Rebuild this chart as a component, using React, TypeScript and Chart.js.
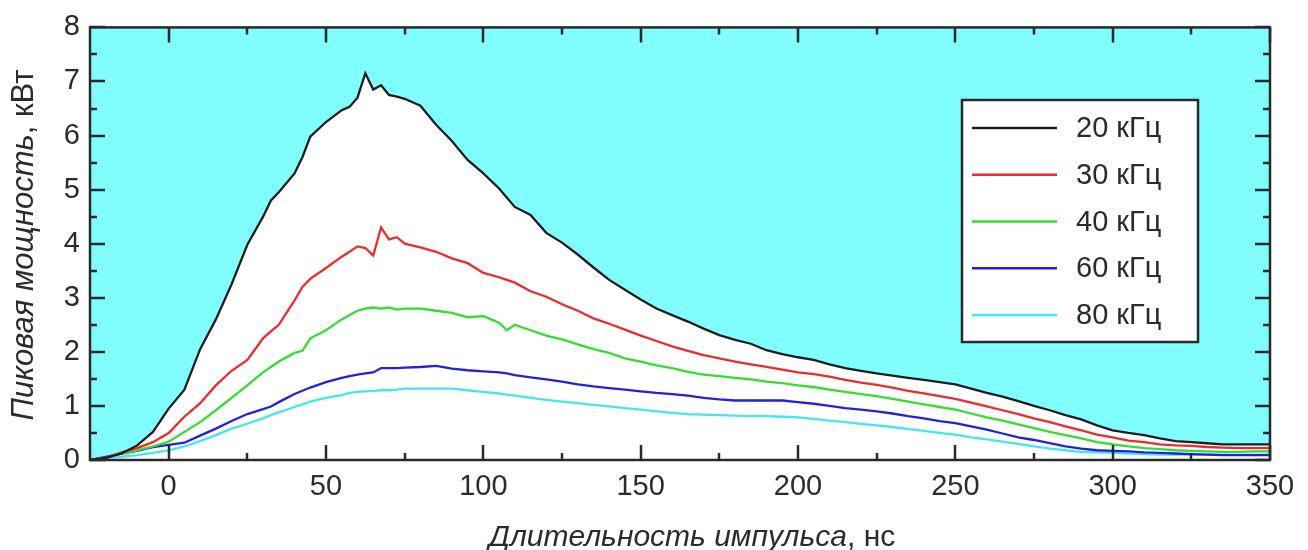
import React, { useEffect, useRef } from "react";
import { Chart, registerables } from "chart.js";

Chart.register(...registerables);

// Pulse duration, ns
const TIME = [
  -25, -20, -15, -10, -5, 0, 5, 10, 15, 20,
  25, 30, 32.5, 35, 40, 42.5, 45, 50, 55, 57.5,
  60, 62.5, 65, 67.5, 70, 72.5, 75, 80, 85, 90,
  95, 100, 105, 107.5, 110, 115, 120, 125, 130, 135,
  140, 145, 150, 155, 160, 165, 170, 175, 180, 185,
  190, 195, 200, 205, 210, 215, 220, 225, 230, 235,
  240, 245, 250, 255, 260, 265, 270, 275, 280, 285,
  290, 295, 300, 305, 310, 315, 320, 325, 330, 335,
  340, 345, 350,
];

// Peak power, kW
const P20 = [
  0, 0.04, 0.12, 0.27, 0.52, 0.95, 1.3, 2.05, 2.6, 3.25,
  3.98, 4.5, 4.8, 4.95, 5.3, 5.6, 5.98, 6.25, 6.47, 6.53,
  6.7, 7.15, 6.85, 6.93, 6.75, 6.72, 6.68, 6.55, 6.2, 5.9,
  5.55, 5.3, 5.02, 4.85, 4.68, 4.53, 4.2, 4.02, 3.8, 3.56,
  3.33, 3.15, 2.97, 2.8, 2.68, 2.56, 2.43, 2.31, 2.22, 2.15,
  2.03, 1.96, 1.9, 1.85, 1.77, 1.7, 1.65, 1.6, 1.56, 1.52,
  1.48, 1.44, 1.4, 1.32, 1.24, 1.17, 1.09, 1.0, 0.92, 0.83,
  0.75, 0.64, 0.55, 0.5, 0.46, 0.4, 0.35, 0.33, 0.31, 0.29,
  0.29, 0.29, 0.29,
];
const P30 = [
  0, 0.04, 0.14, 0.22, 0.33, 0.5, 0.8, 1.05, 1.38, 1.65,
  1.85, 2.25, 2.38, 2.5, 2.95, 3.2, 3.35, 3.55, 3.76, 3.85,
  3.95, 3.92, 3.78, 4.3, 4.08, 4.12, 4.0, 3.93, 3.85, 3.73,
  3.64, 3.46, 3.38, 3.33, 3.28, 3.12, 3.02, 2.88, 2.76, 2.62,
  2.52, 2.41, 2.3, 2.2, 2.1, 2.02, 1.94, 1.88, 1.82, 1.77,
  1.72, 1.67, 1.62, 1.59, 1.54, 1.48, 1.43, 1.39, 1.34, 1.28,
  1.23, 1.18, 1.13, 1.06, 0.99, 0.92, 0.85, 0.77, 0.7, 0.62,
  0.55, 0.47, 0.42, 0.36, 0.33, 0.29, 0.27, 0.26, 0.24, 0.23,
  0.22, 0.22, 0.22,
];
const P40 = [
  0, 0.04, 0.12, 0.18, 0.25, 0.34, 0.52, 0.7, 0.92, 1.15,
  1.38, 1.62, 1.72, 1.82, 1.98, 2.02, 2.25, 2.4, 2.6, 2.68,
  2.76, 2.8, 2.82, 2.8, 2.82, 2.78, 2.8, 2.8, 2.76, 2.72,
  2.64, 2.66, 2.54, 2.4, 2.5, 2.4, 2.3, 2.23, 2.14, 2.05,
  1.98, 1.88, 1.82, 1.75, 1.7, 1.63, 1.58, 1.55, 1.52, 1.49,
  1.45, 1.42, 1.38, 1.35, 1.3, 1.26, 1.22, 1.18, 1.13, 1.08,
  1.03, 0.98, 0.93, 0.86, 0.79, 0.73, 0.66, 0.59, 0.52, 0.46,
  0.4, 0.33, 0.29, 0.25, 0.22, 0.2, 0.18, 0.17, 0.16, 0.15,
  0.15, 0.16, 0.16,
];
const P60 = [
  0, 0.06, 0.12, 0.17, 0.24, 0.28, 0.32, 0.45, 0.58, 0.72,
  0.85, 0.94, 0.99, 1.07, 1.22, 1.28, 1.34, 1.44, 1.52, 1.55,
  1.58, 1.6, 1.62, 1.7, 1.7, 1.7, 1.71, 1.72, 1.74, 1.69,
  1.66, 1.64, 1.62, 1.6, 1.57, 1.53, 1.49, 1.45, 1.4, 1.36,
  1.33, 1.3, 1.27, 1.24, 1.22, 1.19, 1.15, 1.12, 1.1, 1.1,
  1.1, 1.1, 1.07, 1.04, 1.0, 0.96, 0.93, 0.9, 0.86, 0.81,
  0.77, 0.72, 0.68, 0.62, 0.56, 0.49, 0.42, 0.37, 0.31, 0.25,
  0.21, 0.18, 0.17, 0.16, 0.14, 0.13, 0.12, 0.11, 0.1, 0.09,
  0.09, 0.09, 0.09,
];
const P80 = [
  0, 0.04, 0.06, 0.09, 0.13, 0.18, 0.25, 0.35, 0.46, 0.58,
  0.67, 0.77, 0.83, 0.88, 0.98, 1.03, 1.08, 1.15, 1.2, 1.24,
  1.26, 1.27, 1.28, 1.29, 1.29, 1.3, 1.32, 1.32, 1.32, 1.32,
  1.29, 1.26, 1.23, 1.21, 1.19, 1.15, 1.11, 1.08, 1.05, 1.02,
  0.99, 0.96, 0.93, 0.9, 0.87, 0.85, 0.84, 0.83, 0.82, 0.81,
  0.81, 0.8, 0.79, 0.76, 0.73, 0.7, 0.67, 0.64, 0.61, 0.57,
  0.54, 0.5, 0.47, 0.42, 0.38, 0.34, 0.3, 0.25, 0.21, 0.18,
  0.15, 0.14, 0.13, 0.12, 0.11, 0.1, 0.1, 0.1, 0.1, 0.1,
  0.1, 0.1, 0.1,
];

const SERIES_LABELS = ["20 кГц", "30 кГц", "40 кГц", "60 кГц", "80 кГц"];
const SERIES_VALUES = [P20, P30, P40, P60, P80];
const SERIES_COLORS = ["#1e1e1e", "#f02a2a", "#33dd33", "#2222dd", "#44e6f2"];

const X_TICKS = [0, 50, 100, 150, 200, 250, 300, 350];
const X_MINOR = [25, 75, 125, 175, 225, 275, 325];
const Y_TICKS = [0, 1, 2, 3, 4, 5, 6, 7, 8];
const Y_MINOR = [0.5, 1.5, 2.5, 3.5, 4.5, 5.5, 6.5, 7.5];

const X_TITLE = "Длительность импульса";
const X_UNIT = ", нс";
const Y_TITLE = "Пиковая мощность";
const Y_UNIT = ", кВт";

const FONT = "'Liberation Sans', Arial, sans-serif";
const AXIS_COLOR = "#2a2a2a";
const PLOT_BG = "#80fdfd";

function drawMixedTitle(ctx: CanvasRenderingContext2D, italic: string, unit: string, size: number) {
  ctx.font = `italic ${size}px ${FONT}`;
  const w1 = ctx.measureText(italic).width;
  ctx.font = `${size}px ${FONT}`;
  const w2 = ctx.measureText(unit).width;
  const start = -(w1 + w2) / 2;
  ctx.textAlign = "left";
  ctx.textBaseline = "alphabetic";
  ctx.fillStyle = "#2b2b2b";
  ctx.font = `italic ${size}px ${FONT}`;
  ctx.fillText(italic, start, 0);
  ctx.font = `${size}px ${FONT}`;
  ctx.fillText(unit, start + w1, 0);
}

const framePlugin = {
  id: "framePlugin",
  beforeDraw(chart: any) {
    const { ctx, chartArea: a } = chart;
    ctx.save();
    ctx.fillStyle = PLOT_BG;
    ctx.fillRect(a.left, a.top, a.right - a.left, a.bottom - a.top);
    ctx.restore();
  },
  afterDatasetsDraw(chart: any) {
    const { ctx, chartArea: a } = chart;
    const xs = chart.scales.x;
    const ys = chart.scales.y;
    ctx.save();
    ctx.strokeStyle = AXIS_COLOR;
    ctx.lineWidth = 2.5;
    ctx.lineCap = "butt";
    const major = 15;
    const minor = 7;
    ctx.beginPath();
    const xt = (v: number, len: number) => {
      const px = Math.round(xs.getPixelForValue(v));
      ctx.moveTo(px, a.bottom);
      ctx.lineTo(px, a.bottom - len);
      ctx.moveTo(px, a.top);
      ctx.lineTo(px, a.top + len);
    };
    const yt = (v: number, len: number) => {
      const py = Math.round(ys.getPixelForValue(v));
      ctx.moveTo(a.left, py);
      ctx.lineTo(a.left + len, py);
      ctx.moveTo(a.right, py);
      ctx.lineTo(a.right - len, py);
    };
    X_TICKS.forEach((v) => xt(v, major));
    X_MINOR.forEach((v) => xt(v, minor));
    Y_TICKS.forEach((v) => yt(v, major));
    Y_MINOR.forEach((v) => yt(v, minor));
    ctx.stroke();
    ctx.strokeRect(a.left, a.top, a.right - a.left, a.bottom - a.top);

    // legend
    const lx = 962, ly = 100, lw = 236, lh = 242;
    ctx.fillStyle = "#ffffff";
    ctx.fillRect(lx, ly, lw, lh);
    ctx.lineWidth = 2.5;
    ctx.strokeStyle = AXIS_COLOR;
    ctx.strokeRect(lx, ly, lw, lh);
    chart.data.datasets.forEach((ds: any, i: number) => {
      const cy = 128 + i * 46.75;
      ctx.beginPath();
      ctx.strokeStyle = ds.borderColor;
      ctx.lineWidth = 2.5;
      ctx.moveTo(972, cy);
      ctx.lineTo(1057, cy);
      ctx.stroke();
      ctx.fillStyle = "#2b2b2b";
      ctx.font = `29px ${FONT}`;
      ctx.textAlign = "left";
      ctx.textBaseline = "middle";
      ctx.fillText(ds.label, 1076, cy + 1);
    });

    // axis titles
    ctx.save();
    ctx.translate(692, 546);
    drawMixedTitle(ctx, X_TITLE, X_UNIT, 30);
    ctx.restore();
    ctx.save();
    ctx.translate(33, 245);
    ctx.rotate(-Math.PI / 2);
    drawMixedTitle(ctx, Y_TITLE, Y_UNIT, 31);
    ctx.restore();

    ctx.restore();
  },
};

export default function App() {
  const canvasRef = useRef<HTMLCanvasElement | null>(null);

  useEffect(() => {
    if (!canvasRef.current) return;
    const datasets = SERIES_LABELS.map((label, i) => ({
      label,
      data: TIME.map((t, k) => ({ x: t, y: SERIES_VALUES[i][k] })),
      borderColor: SERIES_COLORS[i],
      backgroundColor: i === 0 ? "#ffffff" : SERIES_COLORS[i],
      borderWidth: 2.3,
      pointRadius: 0,
      tension: 0,
      fill: i === 0 ? "origin" : false,
    }));
    const chart = new Chart(canvasRef.current, {
      type: "line",
      data: { datasets },
      options: {
        animation: false,
        responsive: false,
        maintainAspectRatio: false,
        layout: { padding: { top: 25, right: 38, left: 0, bottom: 0 } },
        plugins: {
          legend: { display: false },
          tooltip: { enabled: false },
          filler: { drawTime: "beforeDatasetsDraw" },
        },
        scales: {
          x: {
            type: "linear",
            min: -25,
            max: 350,
            grid: { display: false, drawTicks: false },
            border: { display: false },
            afterBuildTicks: (s: any) => {
              s.ticks = X_TICKS.map((v) => ({ value: v }));
            },
            afterFit: (s: any) => {
              s.height = 90;
            },
            ticks: {
              color: "#2b2b2b",
              font: { size: 29, family: FONT },
              padding: 10,
              maxRotation: 0,
              autoSkip: false,
            },
          },
          y: {
            type: "linear",
            min: 0,
            max: 8,
            grid: { display: false, drawTicks: false },
            border: { display: false },
            afterBuildTicks: (s: any) => {
              s.ticks = Y_TICKS.map((v) => ({ value: v }));
            },
            afterFit: (s: any) => {
              s.width = 90;
            },
            ticks: {
              color: "#2b2b2b",
              font: { size: 29, family: FONT },
              padding: 10,
              autoSkip: false,
            },
          },
        },
      } as any,
      plugins: [framePlugin],
    });
    return () => chart.destroy();
  }, []);

  return (
    <div style={{ position: "absolute", left: 0, top: 0, width: 1308, height: 550, background: "#ffffff" }}>
      <canvas ref={canvasRef} width={1308} height={550} style={{ display: "block" }} />
    </div>
  );
}
